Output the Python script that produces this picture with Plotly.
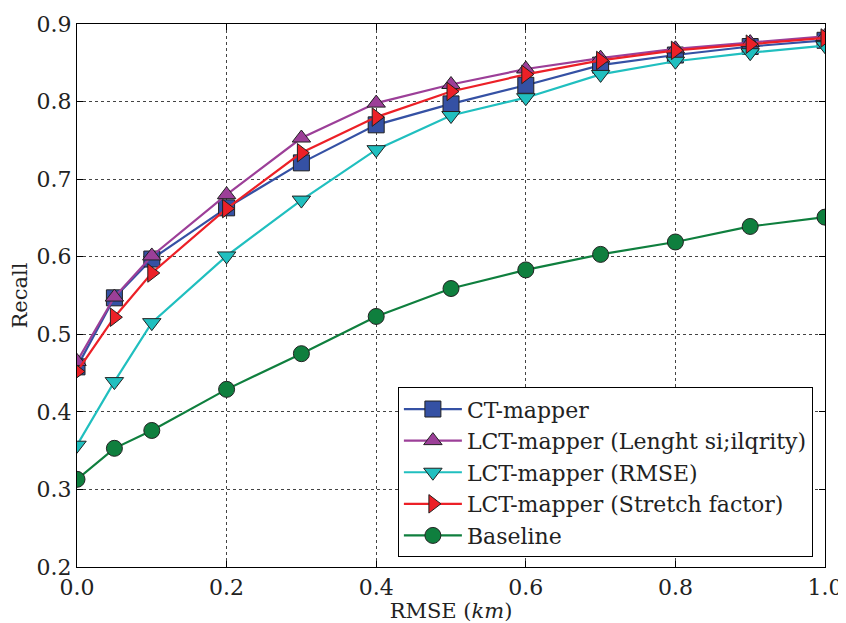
import plotly.graph_objects as go

rmse = [0.0, 0.05, 0.1, 0.2, 0.3, 0.4, 0.5, 0.6, 0.7, 0.8, 0.9, 1.0]
ct_mapper = [0.458, 0.547, 0.597, 0.663, 0.721, 0.770, 0.797, 0.821, 0.847, 0.860, 0.871, 0.879]
lct_length = [0.465, 0.548, 0.601, 0.680, 0.753, 0.798, 0.822, 0.842, 0.856, 0.868, 0.876, 0.884]
lct_rmse = [0.357, 0.439, 0.515, 0.601, 0.673, 0.738, 0.782, 0.805, 0.835, 0.852, 0.863, 0.872]
lct_stretch = [0.452, 0.522, 0.579, 0.662, 0.734, 0.780, 0.813, 0.835, 0.853, 0.866, 0.874, 0.882]
baseline = [0.313, 0.353, 0.376, 0.429, 0.475, 0.523, 0.559, 0.583, 0.603, 0.619, 0.639, 0.651]

series = [
    ("CT-mapper", ct_mapper, "#3551a4", "square"),
    ("LCT-mapper (Lenght si;ilqrity)", lct_length, "#9c3f98", "triangle-up"),
    ("LCT-mapper (RMSE)", lct_rmse, "#20bfbf", "triangle-down"),
    ("LCT-mapper (Stretch factor)", lct_stretch, "#ec2027", "triangle-right"),
    ("Baseline", baseline, "#0f7f3e", "circle"),
]

fig = go.Figure()
for name, vals, color, sym in series:
    fig.add_trace(go.Scatter(
        x=rmse, y=vals, name=name, mode="lines+markers",
        line=dict(color=color, width=2.2),
        marker=dict(symbol=sym, size=16, color=color,
                    line=dict(color="#222222", width=1)),
        cliponaxis=True,
    ))

font = "DejaVu Serif"
axis_common = dict(
    showline=True, linecolor="black", linewidth=1.2, mirror="ticks",
    ticks="inside", ticklen=6, tickcolor="black",
    showgrid=True, gridcolor="#444444", griddash="dot", gridwidth=1,
    zeroline=False, automargin=False,
    tickfont=dict(family=font, size=22, color="#222222"),
)
fig.update_xaxes(range=[0, 1.0], dtick=0.2, tickformat=".1f",
                 title=dict(text="RMSE (<i>km</i>)", font=dict(family=font, size=21, color="#222222"), standoff=4),
                 **axis_common)
fig.update_yaxes(range=[0.2, 0.9], dtick=0.1, tickformat=".1f",
                 title=dict(text="Recall", font=dict(family=font, size=21, color="#222222"), standoff=8),
                 **axis_common)

fig.update_layout(
    width=846, height=623,
    margin=dict(l=69, r=29, t=16, b=64),
    paper_bgcolor="white", plot_bgcolor="white",
    font=dict(family=font, size=22, color="#222222"),
    showlegend=True,
    legend=dict(
        x=0.429, y=0.018, xanchor="left", yanchor="bottom",
        bgcolor="white", bordercolor="black", borderwidth=1,
        font=dict(family=font, size=22, color="#222222"),
        itemwidth=58, tracegroupgap=0,
    ),
)

fig.write_html("out.html")
